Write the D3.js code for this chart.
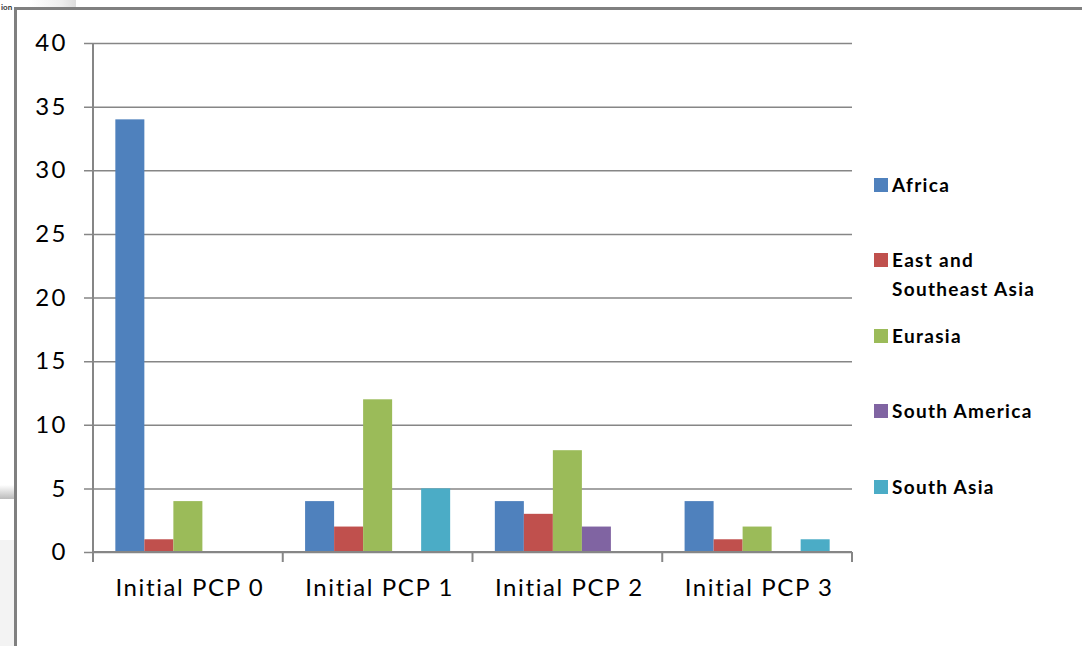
<!DOCTYPE html>
<html><head><meta charset="utf-8">
<script src="https://cdn.jsdelivr.net/npm/d3@7"></script>
<style>body{margin:0;background:#fff;}svg{display:block;}</style>
</head><body>
<svg id="c" width="1082" height="646"></svg>
<script>
const categories = ["Initial PCP 0", "Initial PCP 1", "Initial PCP 2", "Initial PCP 3"];
const seriesNames = ["Africa", "East and Southeast Asia", "Eurasia", "South America", "South Asia"];
const africa = [34, 4, 4, 4];
const eastSoutheastAsia = [1, 2, 3, 1];
const eurasia = [4, 12, 8, 2];
const southAmerica = [0, 0, 2, 0];
const southAsia = [0, 5, 0, 1];
const yTicks = [0, 5, 10, 15, 20, 25, 30, 35, 40];
const colors = ["#4F81BD", "#C0504D", "#9BBB59", "#8064A2", "#4BACC6"];
const legendLines = [["Africa"], ["East and", "Southeast Asia"], ["Eurasia"], ["South America"], ["South Asia"]];

const values = [africa, eastSoutheastAsia, eurasia, southAmerica, southAsia];
const svg = d3.select("#c");
const font = "Lato, 'Open Sans', sans-serif";

// window decoration (surrounding screenshot)
svg.append("rect").attr("x",0).attr("y",540).attr("width",14).attr("height",106).attr("fill","#f3f3f3");
const g1 = svg.append("defs").append("linearGradient").attr("id","gb").attr("x1",0).attr("y1",0).attr("x2",0).attr("y2",1);
g1.append("stop").attr("offset",0).attr("stop-color","#fff");
g1.append("stop").attr("offset",1).attr("stop-color","#bbb");
svg.append("rect").attr("x",0).attr("y",485).attr("width",14).attr("height",14).attr("fill","url(#gb)");
const g2 = svg.select("defs").append("linearGradient").attr("id","gt").attr("x1",0).attr("y1",0).attr("x2",1).attr("y2",0);
g2.append("stop").attr("offset",0).attr("stop-color","#fff");
g2.append("stop").attr("offset",0.7).attr("stop-color","#eee");
g2.append("stop").attr("offset",1).attr("stop-color","#ddd");
svg.append("rect").attr("x",28).attr("y",0).attr("width",48).attr("height",8).attr("fill","url(#gt)");
svg.append("text").attr("x",1).attr("y",10).attr("font-family",font).attr("font-size",8).attr("font-weight","bold").attr("fill","#333").text("ion");
svg.append("rect").attr("x",14).attr("y",7).attr("width",1068).attr("height",3).attr("fill","#808080");
svg.append("rect").attr("x",14).attr("y",7).attr("width",3).attr("height",639).attr("fill","#808080");

const pLeft = 93, pRight = 852, pTop = 43, pBottom = 552;
const x0 = d3.scaleBand().domain(categories).range([pLeft, pRight]).paddingInner(0).paddingOuter(0);
const x1 = d3.scaleBand().domain(seriesNames).range([0, x0.bandwidth()]).paddingInner(0).paddingOuter(0.77);
const y = d3.scaleLinear().domain([0, 40]).range([pBottom, pTop]);

// gridlines
const yAxis = d3.axisLeft(y).tickValues(yTicks).tickSize(-(pRight - pLeft)).tickSizeOuter(0).tickPadding(20);
const ya = svg.append("g").attr("transform", `translate(${pLeft},0)`).call(yAxis);
ya.select(".domain").remove();
ya.selectAll(".tick line").attr("stroke","#868686").attr("stroke-width",1.5).attr("x1",-9);
ya.selectAll(".tick text").attr("font-family",font).attr("font-size",24).attr("letter-spacing",2.5).attr("fill","#000").attr("x",-25);

// bars
const groups = svg.append("g").selectAll("g").data(categories).join("g")
  .attr("transform", d => `translate(${x0(d)},0)`);
groups.selectAll("rect").data((d, i) => seriesNames.map((s, j) => ({s, j, v: values[j][i]}))).join("rect")
  .attr("x", d => x1(d.s)).attr("width", x1.bandwidth())
  .attr("y", d => y(d.v)).attr("height", d => y(0) - y(d.v))
  .attr("fill", d => colors[d.j]);

// axes lines
svg.append("line").attr("x1",pLeft).attr("x2",pLeft).attr("y1",pTop).attr("y2",pBottom+10).attr("stroke","#868686").attr("stroke-width",2);
const xAxis = d3.axisBottom(x0).tickSize(0).tickPadding(27);
const xa = svg.append("g").attr("transform", `translate(0,${pBottom})`).call(xAxis);
xa.select(".domain").attr("stroke","#868686").attr("stroke-width",2).attr("d", `M${pLeft},0H${pRight}`);
xa.selectAll(".tick text").attr("font-family",font).attr("font-size",24).attr("letter-spacing",1.6).attr("fill","#000").attr("dx",2);
svg.append("g").selectAll("line").data(categories.map(c => x0(c)).concat([pRight])).join("line")
  .attr("x1", d => d).attr("x2", d => d).attr("y1", pBottom).attr("y2", pBottom + 10)
  .attr("stroke","#868686").attr("stroke-width",2);

// legend
const legendY = [185, 260, 336, 411, 487];
const lg = svg.append("g").selectAll("g").data(seriesNames).join("g")
  .attr("transform", (d, i) => `translate(874,${legendY[i]})`);
lg.append("rect").attr("x",0).attr("y",-7).attr("width",14).attr("height",14).attr("fill",(d,i)=>colors[i]);
lg.each(function(d, i) {
  const t = d3.select(this).append("text").attr("font-family",font).attr("font-size",19).attr("font-weight","bold").attr("letter-spacing",1.3).attr("fill","#000");
  legendLines[i].forEach((ln, k) => t.append("tspan").attr("x",18).attr("y", 7 + k*29).text(ln));
});
</script>
</body></html>
